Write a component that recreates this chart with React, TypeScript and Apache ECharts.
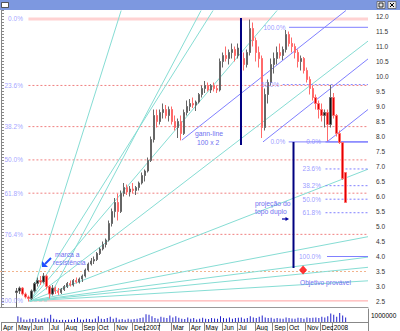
import React, { useEffect, useRef } from 'react';
import * as echarts from 'echarts';

// ---------- data ----------
const N = 123; // category slots across the plot
const FIRST = 5; // index of first traded bar

const opens = [2.80,2.85,2.95,2.75,2.65,2.60,2.85,3.10,3.20,3.15,3.35,3.00,2.75,2.95,2.85,2.80,2.90,3.00,3.10,3.05,3.20,3.15,3.25,3.35,3.55,3.75,3.85,3.90,4.10,4.25,4.40,4.55,5.10,5.50,5.80,5.50,6.10,6.30,6.15,6.25,6.20,6.30,6.45,6.70,6.85,7.20,7.90,8.70,8.50,8.80,8.90,8.70,8.90,8.50,8.30,8.50,8.10,8.80,9.00,9.10,9.05,9.15,9.40,9.60,9.70,9.55,9.70,9.60,9.55,10.50,10.70,10.60,10.80,10.90,10.70,10.95,10.60,10.40,10.80,11.60,11.20,10.80,10.60,8.30,9.40,9.80,10.40,10.60,10.80,10.70,10.90,11.40,11.10,11.00,10.80,10.50,10.60,10.20,9.90,9.60,9.30,9.10,8.90,8.70,8.80,8.40,9.30,8.70,8.10,7.80,6.80];
const highs = [2.95,3.00,2.98,2.80,2.70,2.90,3.15,3.30,3.35,3.45,3.40,3.05,3.05,3.00,2.95,2.95,3.05,3.15,3.20,3.25,3.30,3.30,3.40,3.60,3.80,3.95,4.00,4.15,4.30,4.50,4.60,5.20,5.60,5.95,6.10,6.20,6.45,6.40,6.35,6.45,6.35,6.50,6.80,6.90,7.30,8.00,8.90,8.90,8.90,9.10,9.05,9.00,9.00,8.70,8.60,8.70,8.90,9.20,9.25,9.30,9.20,9.45,9.70,9.85,9.80,9.75,9.80,9.70,10.60,10.80,11.00,10.90,11.10,11.00,11.10,11.00,10.80,10.90,11.90,11.80,11.30,11.00,10.70,9.60,9.90,10.60,10.80,11.00,11.10,11.00,11.55,11.50,11.30,11.10,10.90,10.70,10.65,10.30,10.00,9.70,9.40,9.20,9.10,8.90,8.90,9.72,9.45,8.75,8.20,7.80,6.80];
const lows = [2.30,2.75,2.70,2.60,2.50,2.55,2.80,3.00,3.05,3.10,2.90,2.60,2.70,2.75,2.72,2.75,2.85,2.95,3.00,3.00,3.10,3.10,3.15,3.30,3.50,3.70,3.75,3.85,4.05,4.20,4.30,4.50,5.00,5.30,5.20,5.45,6.00,6.05,6.00,6.10,6.05,6.20,6.40,6.50,6.80,7.15,7.80,8.30,8.40,8.60,8.60,8.50,8.40,8.20,7.95,7.87,8.05,8.70,8.85,8.95,8.85,9.10,9.30,9.45,9.50,9.45,9.50,9.45,9.50,10.30,10.50,10.40,10.60,10.50,10.60,10.50,10.20,10.30,10.70,11.00,10.50,10.30,7.95,8.20,9.10,9.70,10.10,10.40,10.60,10.55,10.80,11.00,10.80,10.60,10.30,10.20,10.10,9.80,9.40,9.20,8.90,8.60,8.50,8.30,7.85,8.30,8.60,8.00,7.75,6.55,5.80];
const closes = [2.85,2.95,2.75,2.65,2.60,2.85,3.10,3.20,3.15,3.35,3.00,2.75,2.95,2.85,2.80,2.90,3.00,3.10,3.05,3.20,3.15,3.25,3.35,3.55,3.75,3.85,3.90,4.10,4.25,4.40,4.55,5.10,5.50,5.80,5.50,6.10,6.30,6.15,6.25,6.20,6.30,6.45,6.70,6.85,7.20,7.90,8.70,8.50,8.80,8.90,8.70,8.90,8.50,8.30,8.50,8.10,8.80,9.00,9.10,9.05,9.15,9.40,9.60,9.70,9.55,9.70,9.60,9.55,10.50,10.70,10.60,10.80,10.90,10.70,10.95,10.60,10.40,10.80,11.60,11.20,10.80,10.60,8.30,9.40,9.80,10.40,10.60,10.80,10.70,10.90,11.40,11.10,11.00,10.80,10.50,10.60,10.20,9.90,9.60,9.30,9.10,8.90,8.70,8.80,8.40,9.30,8.70,8.10,7.80,6.60,5.80];
const volumes = [900,700,400,350,500,450,600,400,500,650,550,1100,500,400,300,350,300,400,350,450,700,400,350,500,450,400,550,900,500,450,600,800,500,650,400,450,350,500,400,450,500,600,700,1200,1100,900,600,500,800,700,600,1000,700,900,650,500,450,700,500,600,400,500,650,500,450,600,550,500,900,600,550,700,500,600,650,700,500,600,900,700,600,800,1000,700,600,650,500,600,550,500,700,600,550,500,650,600,500,700,600,650,700,600,800,700,900,1300,1100,800,1400,1000,700];

const monthStarts = [0, 5, 10, 16, 21, 27, 32, 38, 44, 48, 53, 57, 63, 68, 74, 79, 85, 91, 96, 102, 107, 111];
const monthNames = ['Apr','May','Jun','Jul','Aug','Sep','Oct','Nov','Dec','2007','','Mar','Apr','May','Jun','Jul','Aug','Sep','Oct','Nov','Dec','2008'];

const fibPcts = [0, 23.6, 38.2, 50, 61.8, 76.4, 100];
const fibNames = ['0.0%','23.6%','38.2%','50.0%','61.8%','76.4%','100.0%'];
const fibHigh = 11.92;
const fibLow = 2.52;
const fibStart = 9;

const topHigh = 11.64; // double top
const topLow = 7.82;   // neck line
const retrPcts = [0, 50, 100];
const retrNames = ['0.0%', '50.0%', '100.0%'];
const retrStarts = [96, 94, 96.1];
const projPcts = [0, 23.6, 38.2, 50, 61.8, 100];
const projNames = ['0.0%','23.6%','38.2%','50.0%','61.8%','100.0%'];
const projStart = 108.3;

const fanOrigin = [9.5, 2.52];
const fanEnds = [[40.0, 12.2],[70.7, 12.2],[92.1, 12.2],[122.5, 11.18],[122.5, 6.91],[122.5, 4.66],[122.5, 3.98],[122.5, 3.64],[122.5, 3.19]];
const fanOrigin2 = [15.5, 2.55];
const fanEnds2 = [[66.7, 12.2]];
const fanBase = [[9.2, 2.52],[15.5, 2.52]];

const gannStarts = [[60.3, 7.88],[87.4, 7.82],[108.8, 7.82]];
const gannSlope = 0.0788;

const resistLevel = 3.5;
const navyLines = [[[80.05, 11.95],[80.05, 7.72]], [[97.6, 7.82],[97.6, 3.62]]];
const target = [100.8, 3.55];
const lastPrice = 5.8;

// ---------- helpers ----------
const XMAX = N - 0.5;
const categories = Array.from({ length: N }, (_, i) => 'b' + i);
const pad = (arr: any[]) => Array.from({ length: N }, (_, i) => {
  const k = i - FIRST;
  return k >= 0 && k < arr.length ? arr[k] : '-';
});
const candleData = pad(opens.map((o, k) => [o, closes[k], lows[k], highs[k]]));
const volData = pad(volumes);

const BLUE = '#8080ff';
const CYAN = '#86ddd4';

const seg = (pts: number[][], lineStyle: any, z = 2) => ({
  type: 'line', xAxisIndex: 1, yAxisIndex: 0, data: pts, symbol: 'none', silent: true,
  lineStyle, z, animation: false,
});
const labels = (pts: any[], color: string, distance: number, fontSize = 6.5) => ({
  type: 'scatter', xAxisIndex: 1, yAxisIndex: 0, symbolSize: 1, silent: true, z: 6,
  itemStyle: { color: 'rgba(0,0,0,0)' },
  data: pts.map((p) => ({ value: [p[0], p[1]], name: p[2] })),
  label: { show: true, position: 'left', distance, color, fontSize, fontFamily: 'Liberation Sans', formatter: '{b}' },
});

const series: any[] = [];

// fib retracement (whole move)
fibPcts.forEach((p, k) => {
  const v = fibHigh - (p / 100) * (fibHigh - fibLow);
  let style: any = { color: '#f08080', width: 1, type: [2, 2] };
  if (p === 0) style = { color: '#ffd2d2', width: 3, type: 'solid' };
  if (p === 100) style = { color: '#ffa0a0', width: 1, type: 'solid' };
  series.push(seg([[fibStart, v], [XMAX, v]], style, 1));
});
series.push(labels(fibPcts.map((p, k) => [fibStart, fibHigh - (p / 100) * (fibHigh - fibLow), fibNames[k]]), '#8c8cff', 5));

// resistance dotted line
series.push(seg([[-0.5, resistLevel], [XMAX, resistLevel]], { color: '#f2b48e', width: 1, type: [2, 2] }, 1));

// fan lines
fanEnds.forEach((e) => series.push(seg([fanOrigin, e], { color: CYAN, width: 1 })));
fanEnds2.forEach((e) => series.push(seg([fanOrigin2, e], { color: CYAN, width: 1 })));
series.push(seg(fanBase, { color: CYAN, width: 1, type: [3, 2] }));

// gann lines
gannStarts.forEach(([x0, v0]) => {
  const x1 = Math.min(XMAX, x0 + (12.2 - v0) / gannSlope);
  series.push(seg([[x0, v0], [x1, v0 + (x1 - x0) * gannSlope]], { color: BLUE, width: 1 }));
});

// double top retracement
retrPcts.forEach((p, k) => {
  const v = topLow + (p / 100) * (topHigh - topLow);
  const style = p === 50 ? { color: BLUE, width: 1, type: [2, 2] } : { color: BLUE, width: 1, type: 'solid' };
  series.push(seg([[retrStarts[k], v], [XMAX, v]], style, 3));
});
series.push(labels(retrPcts.map((p, k) => [retrStarts[k], topLow + (p / 100) * (topHigh - topLow), retrNames[k]]), BLUE, 3));

// projection of the double top
projPcts.forEach((p) => {
  const v = topLow - (p / 100) * (topHigh - topLow);
  const style = p === 0 || p === 100 ? { color: BLUE, width: 1.2, type: 'solid' } : { color: BLUE, width: 1, type: [2, 2] };
  series.push(seg([[p === 100 ? 108.8 : projStart, v], [XMAX, v]], style, 3));
});
series.push(labels(projPcts.map((p, k) => [projStart, topLow - (p / 100) * (topHigh - topLow), projNames[k]]), BLUE, 4));

// navy vertical markers
navyLines.forEach((pts) => series.push(seg(pts, { color: '#000080', width: 2 }, 5)));

// target diamond
series.push({
  type: 'scatter', xAxisIndex: 1, yAxisIndex: 0, symbol: 'diamond', symbolSize: [8, 9], z: 7,
  itemStyle: { color: '#ff0000' }, data: [target], silent: true,
});

// candles
series.push({
  type: 'candlestick', xAxisIndex: 0, yAxisIndex: 0, data: candleData, barWidth: 1.8, z: 4,
  itemStyle: { color: '#111111', color0: '#e00000', borderColor: '#666666', borderColor0: '#ff6a6a', borderWidth: 1 },
  markLine: {
    symbol: 'none', silent: true,
    lineStyle: { opacity: 0 },
    data: [{ yAxis: lastPrice }],
    label: {
      show: true, position: 'end', distance: 3, formatter: '5.80000',
      backgroundColor: '#000', color: '#fff', fontSize: 6.5, fontFamily: 'Liberation Sans', padding: [1, 2],
    },
  },
});

// volume
series.push({
  type: 'bar', xAxisIndex: 2, yAxisIndex: 1, data: volData, barWidth: 1,
  itemStyle: { color: '#2222cc' }, silent: true,
});

const txt = (text: string, x: number, y: number, extra: any = {}) => ({
  type: 'text', x, y, z: 20, silent: true,
  style: { text, fill: '#7070f0', fontSize: 6.8, fontFamily: 'Liberation Sans', align: 'left', verticalAlign: 'middle', ...extra },
});

const graphic: any[] = [
  { type: 'rect', shape: { x: 0, y: 0, width: 400, height: 10 }, style: { fill: '#7d98e0' }, z: 30 },
  { type: 'rect', shape: { x: 1.5, y: 2.5, width: 7, height: 5 }, style: { fill: '#fff', stroke: '#333', lineWidth: 0.8 }, z: 31 },
  txt('PLAS3', 10, 5, { fill: '#ffffff', fontWeight: 'bold', fontSize: 6.3 }),
  txt('(6.80000, 6.80000, 5.80000, 5.80000, -1.00000)', 30, 5, { fill: '#ff2a2a', fontSize: 5.9 }),
  { type: 'rect', shape: { x: 377, y: 1.5, width: 8, height: 7 }, style: { fill: '#e8e8e8', stroke: '#555', lineWidth: 0.7 }, z: 31 },
  { type: 'rect', shape: { x: 379, y: 3, width: 4, height: 4 }, style: { fill: 'none', stroke: '#000', lineWidth: 0.8 }, z: 32 },
  { type: 'rect', shape: { x: 388, y: 1.5, width: 8, height: 7 }, style: { fill: '#e8e8e8', stroke: '#555', lineWidth: 0.7 }, z: 31 },
  { type: 'line', shape: { x1: 390, y1: 3, x2: 394, y2: 7 }, style: { stroke: '#000', lineWidth: 1 }, z: 32 },
  { type: 'line', shape: { x1: 394, y1: 3, x2: 390, y2: 7 }, style: { stroke: '#000', lineWidth: 1 }, z: 32 },
  txt('gann-line', 195, 133),
  txt('100 x 2', 197, 142.5),
  txt('projeção do', 255, 203),
  txt('topo duplo', 255, 211),
  txt('marca a', 55, 254),
  txt('resistência', 53, 262),
  txt('Objetivo provável', 300, 282, { fontSize: 6.6 }),
  { type: 'line', shape: { x1: 51, y1: 258, x2: 45, y2: 264 }, style: { stroke: '#2050ff', lineWidth: 2 }, z: 21 },
  { type: 'polygon', shape: { points: [[42, 267], [42, 261], [48, 267]] }, style: { fill: '#2050ff' }, z: 21 },
  { type: 'line', shape: { x1: 282, y1: 219, x2: 286, y2: 219 }, style: { stroke: '#0000a0', lineWidth: 1.2 }, z: 21 },
  { type: 'polygon', shape: { points: [[285.5, 217], [289, 219], [285.5, 221]] }, style: { fill: '#0000a0' }, z: 21 },
];

const option: any = {
  animation: false,
  backgroundColor: '#ffffff',
  textStyle: { fontFamily: 'Liberation Sans' },
  grid: [
    { left: 0, right: 32, top: 10.5, bottom: 23.5, containLabel: false },
    { left: 0, right: 32, top: 309, bottom: 9, containLabel: false },
  ],
  xAxis: [
    {
      type: 'category', gridIndex: 0, data: categories, boundaryGap: true,
      axisLine: { show: true, lineStyle: { color: '#999' } }, axisTick: { show: false }, axisLabel: { show: false },
      splitLine: { show: false },
    },
    { type: 'value', gridIndex: 0, min: -0.5, max: XMAX, show: false },
    {
      type: 'category', gridIndex: 1, data: categories, boundaryGap: true,
      axisLine: { show: true, lineStyle: { color: '#888' } },
      axisTick: { show: true, length: 9, interval: (i: number) => monthStarts.includes(i), lineStyle: { color: '#888' } },
      axisLabel: {
        show: true, interval: (i: number) => monthStarts.includes(i) && monthNames[monthStarts.indexOf(i)] !== '',
        formatter: (_v: string, i: number) => { const k = monthStarts.indexOf(i); return k >= 0 ? monthNames[k] : ''; },
        align: 'left', margin: 2, fontSize: 6.5, color: '#000', fontFamily: 'Liberation Sans',
      },
      splitLine: { show: false },
    },
  ],
  yAxis: [
    {
      type: 'value', gridIndex: 0, position: 'right', min: 2.3, max: 12.2, interval: 0.1,
      axisLine: { show: true, lineStyle: { color: '#888' } },
      axisTick: { show: true, length: 2.5, lineStyle: { color: '#888' } },
      axisLabel: {
        margin: 8, fontSize: 6.5, color: '#333', fontFamily: 'Liberation Sans',
        formatter: (v: number) => (Math.abs(v * 2 - Math.round(v * 2)) < 1e-6 ? v.toFixed(1) : ''),
      },
      splitLine: { show: false },
    },
    {
      type: 'value', gridIndex: 1, position: 'right', min: 0, max: 2000, interval: 1000,
      axisLine: { show: true, lineStyle: { color: '#888' } }, axisTick: { show: false },
      axisLabel: { margin: 3, fontSize: 6.5, color: '#000', formatter: (v: number) => (v === 1000 ? '1000000' : '') },
      splitLine: { show: false },
    },
  ],
  series,
  graphic,
};

export default function App() {
  const ref = useRef<HTMLDivElement>(null);
  useEffect(() => {
    const chart = echarts.init(ref.current as HTMLDivElement, null, { renderer: 'svg' });
    chart.setOption(option);
    return () => chart.dispose();
  }, []);
  return <div ref={ref} style={{ position: 'fixed', left: 0, top: 0, width: 400, height: 331, background: '#fff' }} />;
}
